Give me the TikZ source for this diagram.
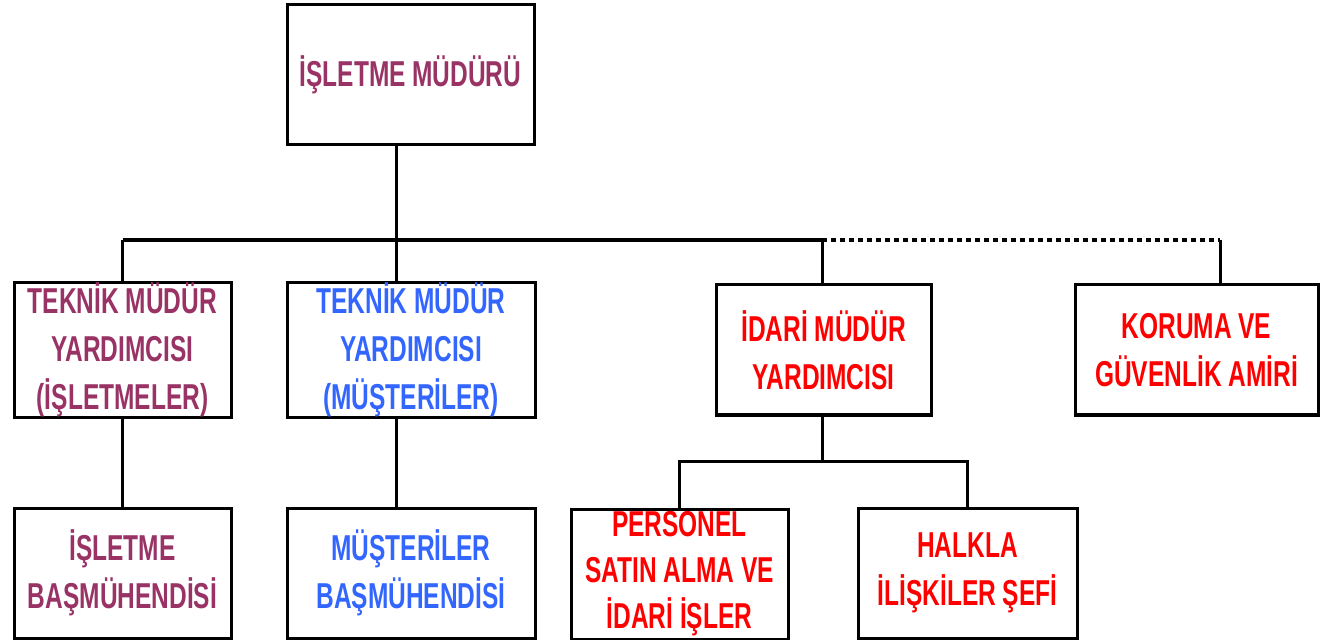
\documentclass[tikz,border=0pt]{standalone}
\usepackage{fontspec}
\newfontfamily\orgfont{Liberation Sans}[FakeStretch=0.68]
\definecolor{plum}{RGB}{153,51,102}
\definecolor{azure}{RGB}{51,102,255}
\tikzset{
  post/.style={draw, line width=1.5pt, align=center, inner sep=0pt,
    minimum height=65pt, font=\orgfont\bfseries\fontsize{18}{24}\selectfont},
  link/.style={line width=1.5pt},
  bus/.style={line width=2pt}
}
\begin{document}
\begin{tikzpicture}[x=0.5pt,y=-0.5pt]
    \useasboundingbox (0,0) rectangle (1320,640);
    % top
    \node[post, text=plum, minimum width=123.5pt, minimum height=70pt] (mudur) at (410.5,75) {İŞLETME MÜDÜRÜ};
    % second row
    \node[post, text=plum, minimum width=108.5pt] (tekI) at (122.5,350) {TEKNİK MÜDÜR\\YARDIMCISI\\(İŞLETMELER)};
    \node[post, text=azure, minimum width=124pt] (tekM) at (411,350) {TEKNİK MÜDÜR\\YARDIMCISI\\(MÜŞTERİLER)};
    \node[post, text=red, minimum width=107.5pt] (idari) at (823.5,350) {İDARİ MÜDÜR\\YARDIMCISI};
    \node[post, text=red, minimum width=121.5pt] (koruma) at (1196.5,350) {KORUMA VE\\GÜVENLİK AMİRİ};
    % third row
    \node[post, text=plum, minimum width=108.5pt] (basI) at (122.5,573) {İŞLETME\\BAŞMÜHENDİSİ};
    \node[post, text=azure, minimum width=124pt] (basM) at (411,573) {MÜŞTERİLER\\BAŞMÜHENDİSİ};
    \node[post, text=red, minimum width=108.5pt] (personel) at (679.5,574) {PERSONEL\\[-1pt]SATIN ALMA VE\\[-1pt]İDARİ İŞLER};
    \node[post, text=red, minimum width=109.5pt] (halkla) at (967.5,573) {HALKLA\\İLİŞKİLER ŞEFİ};
    % bus
    \coordinate (b1) at (122.5,240);
    \coordinate (b2) at (396,240);
    \coordinate (b3) at (822,240);
    \coordinate (b4) at (1220,240);
    \draw[bus] (b1) -- (b3);
    \draw[bus, dash pattern=on 2.5pt off 2pt] (b3) -- (b4);
    \draw[link] (mudur.south -| b2) -- (b2);
    \draw[link] (b1) -- (tekI.north);
    \draw[link] (b2) -- (tekM.north -| b2);
    \draw[link] (b3) -- (idari.north -| b3);
    \draw[link] (b4) -- (koruma.north -| b4);
    \draw[link] (tekI) -- (basI);
    \draw[link] (tekM.south -| b2) -- (basM.north -| b2);
    % fork under idari
    \coordinate (f0) at (822,461);
    \draw[link] (idari.south -| f0) -- (f0);
    \draw[link] (personel.north) |- (f0) -| (halkla.north);
\end{tikzpicture}
\end{document}
